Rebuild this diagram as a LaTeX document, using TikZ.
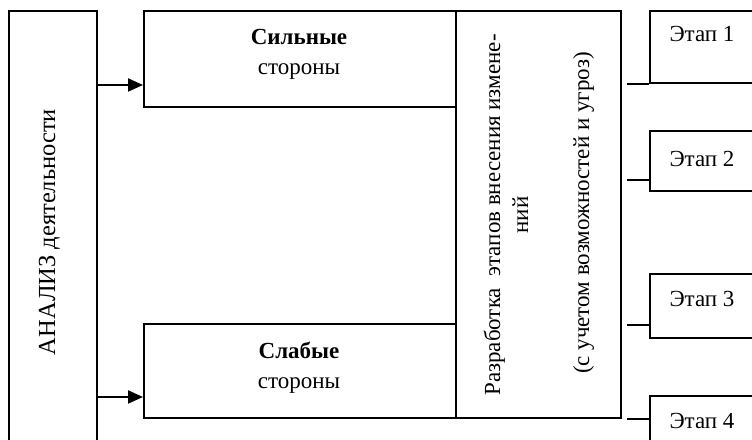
\documentclass[tikz,border=0pt]{standalone}
\usepackage{fontspec}
\setmainfont{Liberation Serif}
\usetikzlibrary{arrows.meta}

\begin{document}
\begin{tikzpicture}[x=1pt, y=-1pt,
  box/.style={draw, line width=2pt, inner sep=0pt, anchor=north west},
  lbl/.style={inner sep=0pt, font=\fontsize{23}{28}\selectfont},
  biglbl/.style={inner sep=0pt, font=\fontsize{24.5}{30}\selectfont},
  link/.style={line width=2pt},
  arr/.style={line width=2pt, -{Triangle[length=15pt, width=13pt]}}]

  \clip (0,0) rectangle (752,439);

  % analysis column (runs off the lower edge)
  \node[box, minimum width=88pt, minimum height=440pt] (anal) at (8,10) {};
  \node[biglbl, rotate=90, anchor=base] (analtxt) at (55,232) {АНАЛИЗ деятельности};

  % strengths and weaknesses
  \node[box, minimum width=312pt, minimum height=96pt] (strong) at (143,10) {};
  \node[lbl, anchor=base] (strongA) at (299,44) {\textbf{Сильные}};
  \node[lbl, anchor=base] (strongB) at (299,74) {стороны};

  \node[box, minimum width=312pt, minimum height=94pt] (weak) at (143,323) {};
  \node[lbl, anchor=base] (weakA) at (299,358) {\textbf{Слабые}};
  \node[lbl, anchor=base] (weakB) at (299,388) {стороны};

  % planning column
  \node[box, minimum width=165pt, minimum height=407pt] (plan) at (455,10) {};
  \node[lbl, rotate=90, anchor=base] (planA) at (500,215) {Разработка\ \ этапов внесения измене-};
  \node[lbl, rotate=90, anchor=base] (planB) at (528,215) {ний};
  \node[lbl, rotate=90, anchor=base] (planC) at (589,213) {(с учетом возможностей и угроз)};

  % stages
  \node[box, minimum width=106pt, minimum height=72pt] (e1) at (649,10) {};
  \node[lbl, anchor=base] (e1t) at (702,41) {Этап 1};
  \node[box, minimum width=106pt, minimum height=60pt] (e2) at (649,130) {};
  \node[lbl, anchor=base] (e2t) at (702,166) {Этап 2};
  \node[box, minimum width=106pt, minimum height=64pt] (e3) at (649,273) {};
  \node[lbl, anchor=base] (e3t) at (702,306) {Этап 3};
  \node[box, minimum width=106pt, minimum height=60pt] (e4) at (649,395) {};
  \node[lbl, anchor=base] (e4t) at (702,428) {Этап 4};

  % arrows from the analysis column
  \coordinate (sIn) at ([yshift=23pt]strong.south west);
  \coordinate (wIn) at ([yshift=22pt]weak.south west);
  \draw[arr] (anal.east |- sIn) -- (sIn);
  \draw[arr] (anal.east |- wIn) -- (wIn);

  % links from the planning column to the stages
  \coordinate (pOut) at ([xshift=5pt]plan.east);
  \coordinate (c1) at (e1.south west);
  \coordinate (c2) at ([yshift=12pt]e2.south west);
  \coordinate (c3) at ([yshift=14pt]e3.south west);
  \coordinate (c4) at ([yshift=-24pt]e4.north west);
  \draw[link] (pOut |- c1) -- (c1);
  \draw[link] (pOut |- c2) -- (c2);
  \draw[link] (pOut |- c3) -- (c3);
  \draw[link] (pOut |- c4) -- (c4);
\end{tikzpicture}
\end{document}
